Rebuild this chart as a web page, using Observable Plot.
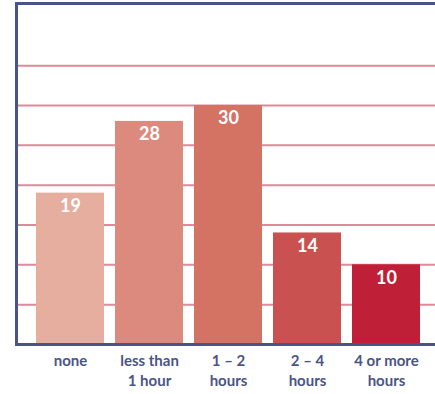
<!DOCTYPE html>
<html>
<head>
<meta charset="utf-8">
<script src="https://cdn.jsdelivr.net/npm/d3@7"></script>
<script src="https://cdn.jsdelivr.net/npm/@observablehq/plot@0.6"></script>
<style>
  html, body { margin: 0; padding: 0; background: #fff; }
  #chart { width: 435px; height: 394px; }
</style>
</head>
<body>
<div id="chart"></div>
<script>
const categories = ["none", "less than\n1 hour", "1 – 2\nhours", "2 – 4\nhours", "4 or more\nhours"];
const values = [19, 28, 30, 14, 10];
const barColors = ["#E5AE9F", "#DC8A7E", "#D47264", "#C95250", "#BF1F37"];
const gridTicks = [5, 10, 15, 20, 25, 30, 35];
const yMax = 42.8;

const data = categories.map((c, i) => ({category: c, value: values[i], color: barColors[i]}));

const navy = "#4A5587";
const pink = "#DF8A98";
const font = "'Century Gothic', 'Lato', 'DejaVu Sans', sans-serif";

const chart = Plot.plot({
  width: 435,
  height: 394,
  marginLeft: 16,
  marginRight: 0,
  marginTop: 3,
  marginBottom: 50,
  style: {fontFamily: font, background: "#fff"},
  x: {domain: categories, range: [34, 422.5], paddingInner: 0.1375, paddingOuter: 0, axis: null},
  y: {domain: [0, yMax], axis: null},
  color: {type: "identity"},
  marks: [
    Plot.ruleY(gridTicks, {stroke: pink, strokeWidth: 2}),
    Plot.barY(data, {x: "category", y: "value", fill: "color"}),
    Plot.text(data, {x: "category", y: "value", text: d => String(d.value), dy: 13, fill: "#fff",
      fontSize: 18, fontWeight: "bold"}),
    Plot.ruleY([0, yMax], {stroke: navy, strokeWidth: 3}),
    Plot.frame({anchor: "left", stroke: navy, strokeWidth: 3}),
    Plot.text(data, {x: "category", text: "category", frameAnchor: "bottom", dy: 8, fill: navy,
      fontSize: 15, fontWeight: "bold", lineHeight: 1.3, textAnchor: "middle", lineAnchor: "top"})
  ]
});
document.getElementById("chart").append(chart);
</script>
</body>
</html>
